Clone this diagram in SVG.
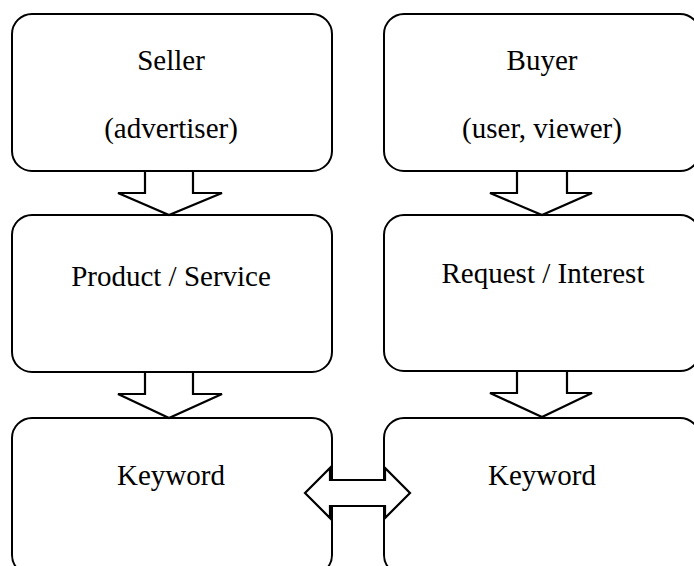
<svg xmlns="http://www.w3.org/2000/svg" width="694" height="566" viewBox="0 0 694 566">
  <style>
    .box { fill: #ffffff; stroke: #000000; stroke-width: 2; }
    .arrow { fill: #ffffff; stroke: #000000; stroke-width: 2.2; stroke-linejoin: miter; }
    .label { font-family: "Liberation Serif", "Times New Roman", serif; font-size: 29px; fill: #000000; text-anchor: middle; }
  </style>
  <rect width="694" height="566" fill="#ffffff"/>

  <g id="seller">
    <rect class="box" x="12" y="14" width="320" height="157" rx="20" ry="20"/>
    <text class="label" x="171" y="70">Seller</text>
    <text class="label" x="171" y="138">(advertiser)</text>
  </g>
  <g id="buyer">
    <rect class="box" x="384" y="14" width="316" height="157" rx="20" ry="20"/>
    <text class="label" x="542" y="70">Buyer</text>
    <text class="label" x="542" y="138">(user, viewer)</text>
  </g>
  <g id="product">
    <rect class="box" x="12" y="215" width="320" height="157" rx="20" ry="20"/>
    <text class="label" x="171" y="286">Product / Service</text>
  </g>
  <g id="request">
    <rect class="box" x="384" y="215" width="316" height="156" rx="20" ry="20"/>
    <text class="label" x="543" y="283">Request / Interest</text>
  </g>
  <g id="keyword-seller">
    <rect class="box" x="12" y="418" width="320" height="157" rx="20" ry="20"/>
    <text class="label" x="171" y="485">Keyword</text>
  </g>
  <g id="keyword-buyer">
    <rect class="box" x="384" y="418" width="316" height="157" rx="20" ry="20"/>
    <text class="label" x="542" y="485">Keyword</text>
  </g>

  <g id="connectors">
    <!-- block arrows, left column -->
    <polygon class="arrow" points="145,171 193,171 193,193 222,193 169,215 118,193 145,193"/>
    <polygon class="arrow" points="145,372 193,372 193,394 222,394 169,418 118,394 145,394"/>
    <!-- block arrows, right column -->
    <polygon class="arrow" points="517,171 567,171 567,193 592,193 542,215 490,193 517,193"/>
    <polygon class="arrow" points="517,371 567,371 567,393 592,393 542,417 490,393 517,393"/>
    <!-- two-way arrow between the keyword boxes -->
    <polygon class="arrow" points="305,493 330,468 330,480 385,480 385,468 410,493 385,518 385,506 330,506 330,518"/>
  </g>
</svg>
